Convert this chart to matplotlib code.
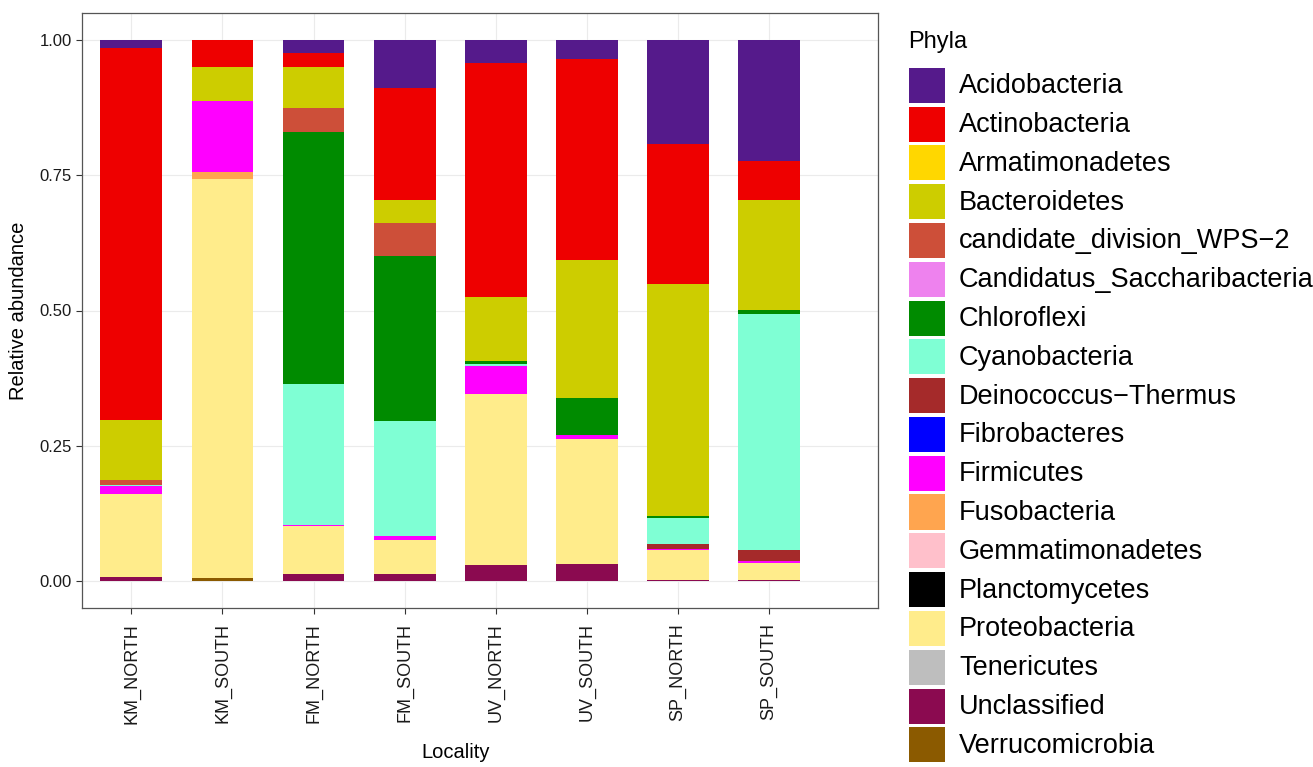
import matplotlib
matplotlib.use("Agg")
import matplotlib.pyplot as plt
from matplotlib.patches import Rectangle
import numpy as np

plt.rcParams['font.family'] = ['Liberation Sans', 'DejaVu Sans']

localities = ['KM_NORTH', 'KM_SOUTH', 'FM_NORTH', 'FM_SOUTH',
              'UV_NORTH', 'UV_SOUTH', 'SP_NORTH', 'SP_SOUTH']

phyla = ['Acidobacteria', 'Actinobacteria', 'Armatimonadetes', 'Bacteroidetes',
         'candidate_division_WPS\u22122', 'Candidatus_Saccharibacteria', 'Chloroflexi',
         'Cyanobacteria', 'Deinococcus\u2212Thermus', 'Fibrobacteres', 'Firmicutes',
         'Fusobacteria', 'Gemmatimonadetes', 'Planctomycetes', 'Proteobacteria',
         'Tenericutes', 'Unclassified', 'Verrucomicrobia']

colors = ['#551A8B', '#EE0000', '#FFD700', '#CDCD00', '#CD4F39', '#EE82EE',
          '#008B00', '#7FFFD4', '#A52A2A', '#0000FF', '#FF00FF', '#FFA54F',
          '#FFC0CB', '#000000', '#FFEC8B', '#BEBEBE', '#8B0A50', '#8B5A00']

acidobacteria   = [0.015, 0.000, 0.024, 0.089, 0.042, 0.035, 0.193, 0.223]
actinobacteria  = [0.687, 0.049, 0.025, 0.207, 0.433, 0.372, 0.258, 0.073]
armatimonadetes = [0.000, 0.000, 0.000, 0.000, 0.000, 0.000, 0.000, 0.000]
bacteroidetes   = [0.112, 0.063, 0.077, 0.043, 0.119, 0.255, 0.429, 0.203]
wps2            = [0.008, 0.000, 0.044, 0.061, 0.000, 0.000, 0.000, 0.000]
saccharibacteria = [0.000, 0.000, 0.000, 0.000, 0.000, 0.000, 0.000, 0.000]
chloroflexi     = [0.000, 0.000, 0.466, 0.304, 0.004, 0.069, 0.003, 0.008]
cyanobacteria   = [0.002, 0.000, 0.260, 0.212, 0.004, 0.000, 0.049, 0.436]
deinococcus     = [0.000, 0.000, 0.000, 0.000, 0.000, 0.000, 0.008, 0.021]
fibrobacteres   = [0.000, 0.000, 0.000, 0.000, 0.000, 0.000, 0.000, 0.000]
firmicutes      = [0.015, 0.132, 0.003, 0.009, 0.053, 0.006, 0.002, 0.002]
fusobacteria    = [0.000, 0.013, 0.000, 0.000, 0.000, 0.000, 0.000, 0.000]
gemmatimonadetes = [0.000, 0.000, 0.000, 0.000, 0.000, 0.000, 0.000, 0.000]
planctomycetes  = [0.000, 0.000, 0.000, 0.000, 0.000, 0.000, 0.000, 0.000]
proteobacteria  = [0.154, 0.738, 0.089, 0.062, 0.316, 0.231, 0.057, 0.032]
tenericutes     = [0.000, 0.000, 0.000, 0.000, 0.000, 0.000, 0.000, 0.000]
unclassified    = [0.007, 0.000, 0.012, 0.013, 0.029, 0.032, 0.001, 0.002]
verrucomicrobia = [0.000, 0.005, 0.000, 0.000, 0.000, 0.000, 0.000, 0.000]

series = [acidobacteria, actinobacteria, armatimonadetes, bacteroidetes, wps2,
          saccharibacteria, chloroflexi, cyanobacteria, deinococcus, fibrobacteres,
          firmicutes, fusobacteria, gemmatimonadetes, planctomycetes, proteobacteria,
          tenericutes, unclassified, verrucomicrobia]

fig = plt.figure(figsize=(13.13, 7.67), dpi=100)
W, H = 1313, 767
left, right, top, bottom = 82, 878, 13, 608
ax = fig.add_axes([left / W, 1 - bottom / H, (right - left) / W, (bottom - top) / H])

x = np.arange(1, len(localities) + 1)
base = np.zeros(len(localities))
# stack from bottom: last phylum at bottom
for name, vals, col in reversed(list(zip(phyla, series, colors))):
    v = np.array(vals)
    ax.bar(x, v, bottom=base, width=0.68, color=col, linewidth=0, zorder=3)
    base += v

ax.set_xlim(0.457, 9.2)
ax.set_ylim(-0.05, 1.05)
ax.set_yticks([0, 0.25, 0.5, 0.75, 1.0])
ax.set_yticklabels(['0.00', '0.25', '0.50', '0.75', '1.00'], fontsize=12)
ax.set_xticks(x)
ax.set_xticklabels(localities, rotation=90, fontsize=13, va='top', ha='center')
ax.tick_params(axis='both', colors='#333333', length=4, width=0.8, labelcolor='#1a1a1a')
ax.tick_params(axis='x', pad=7)
ax.grid(True, color='#EBEBEB', linewidth=0.8, zorder=0)
ax.set_axisbelow(True)
for s in ax.spines.values():
    s.set_color('#555555')
    s.set_linewidth(0.9)

ax.set_ylabel('Relative abundance', fontsize=14.5, labelpad=8)
fig.text(456 / W, 1 - 752 / H, 'Locality', fontsize=14.5, ha='center', va='center')

# legend drawn in pixel coordinates
lax = fig.add_axes([0, 0, 1, 1])
lax.set_xlim(0, W)
lax.set_ylim(H, 0)
lax.axis('off')
lax.text(908, 42, 'Phyla', fontsize=17, ha='left', va='center')
key_top0, step, kw, kh = 67.7, 38.8, 36, 35
for i, (name, col) in enumerate(zip(phyla, colors)):
    yt = key_top0 + i * step
    lax.add_patch(Rectangle((909, yt), kw, kh, facecolor=col, edgecolor='none'))
    lax.text(959, yt + kh / 2 + 1, name, fontsize=19.5, ha='left', va='center')

fig.savefig('out.png', dpi=100)
